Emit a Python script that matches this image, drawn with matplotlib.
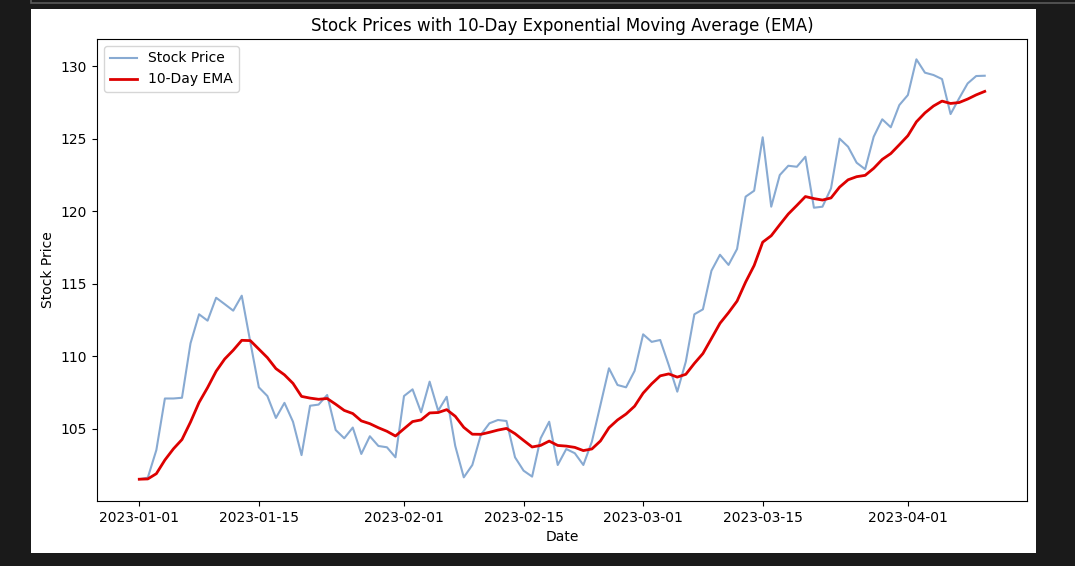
import matplotlib
matplotlib.use("Agg")
import matplotlib.pyplot as plt
import pandas as pd
from matplotlib.patches import Rectangle

# daily closing prices, 2023-01-01 .. 2023-04-10
start_date = "2023-01-01"
prices = [
    101.54, 101.65, 103.55, 107.1, 107.1, 107.15, 110.9, 112.9, 112.46, 114.04,
    113.6, 113.15, 114.18, 111.0, 107.87, 107.27, 105.76, 106.8, 105.5, 103.2,
    106.6, 106.68, 107.34, 104.93, 104.36, 105.1, 103.28, 104.5, 103.83, 103.74,
    103.05, 107.27, 107.73, 106.15, 108.26, 106.26, 107.22, 103.83, 101.67, 102.52,
    104.6, 105.39, 105.62, 105.55, 103.05, 102.13, 101.72, 104.36, 105.5, 102.52,
    103.62, 103.33, 102.52, 104.13, 106.65, 109.18, 108.03, 107.87, 109.0, 111.52,
    111.0, 111.13, 109.4, 107.57, 109.64, 112.9, 113.24, 115.9, 117.0, 116.3,
    117.4, 121.0, 121.41, 125.09, 120.31, 122.49, 123.13, 123.06, 123.75, 120.24,
    120.31, 121.57, 125.0, 124.44, 123.34, 122.89, 125.13, 126.33, 125.78, 127.31,
    128.0, 130.46, 129.54, 129.38, 129.1, 126.69, 127.77, 128.8, 129.31, 129.33,
]
ema_span = 10
xtick_labels = ["2023-01-01", "2023-01-15", "2023-02-01", "2023-02-15",
                "2023-03-01", "2023-03-15", "2023-04-01"]

df = pd.DataFrame({"price": prices},
                  index=pd.date_range(start_date, periods=len(prices), freq="D"))
df["ema"] = df["price"].ewm(span=ema_span, adjust=False).mean()

W, H = 1075, 566
fig = plt.figure(figsize=(W / 100, H / 100), dpi=100, facecolor="#1a1a1a")

# white figure area inside the dark screenshot frame, plus the thin bar on top
fig.patches.append(Rectangle((31 / W, 1 - 553 / H), 1005 / W, 544 / H,
                             transform=fig.transFigure, facecolor="white",
                             edgecolor="none", zorder=-10))
fig.patches.append(Rectangle((31 / W, 1 - 3 / H), 1060 / W, 6 / H,
                             transform=fig.transFigure, facecolor="#1a1a1a",
                             edgecolor="#5a5a5a", linewidth=1.2, zorder=-10))

ax = fig.add_axes([97 / W, 1 - 501 / H, 930 / W, 462 / H])
ax.plot(df.index, df["price"], color="#88aad2", linewidth=1.5, label="Stock Price")
ax.plot(df.index, df["ema"], color="#dd0000", linewidth=2, label="10-Day EMA")

ax.set_xticks(pd.to_datetime(xtick_labels))
ax.set_xticklabels(xtick_labels)
ax.set_xlim(df.index[0] - pd.Timedelta(days=4.95), df.index[-1] + pd.Timedelta(days=4.95))
ax.set_yticks([105, 110, 115, 120, 125, 130])
ax.set_ylim(100.04, 131.86)

ax.set_title("Stock Prices with 10-Day Exponential Moving Average (EMA)", fontsize=12)
ax.set_xlabel("Date")
ax.set_ylabel("Stock Price")
ax.legend(loc="upper left")

fig.savefig("out.png", dpi=100, facecolor=fig.get_facecolor())
